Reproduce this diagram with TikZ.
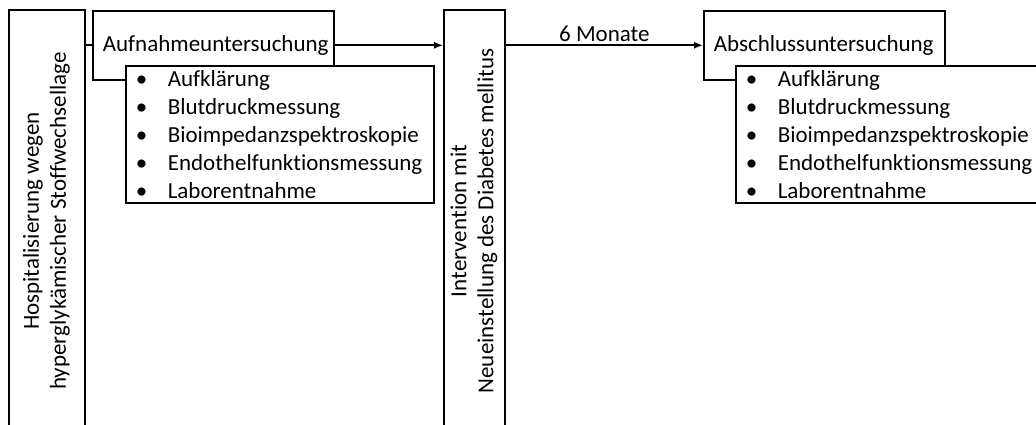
\documentclass[tikz,border=0pt]{standalone}
\usepackage{fontspec}
\setmainfont{Carlito}[Ligatures=NoCommon]
\usetikzlibrary{positioning, arrows.meta}
\tikzset{
>={Latex[length=9pt,width=7pt]}, % arrow tip of the connectors
}
\newcommand{\bul}[1]{\makebox[32pt][l]{\textbullet}#1} % one bullet line of a list

\begin{document}
\begin{tikzpicture}[x=1pt, y=-1pt, line width=1.6pt, font=\fontsize{23}{28}\selectfont,
    tall/.style = {draw, minimum width=#1, minimum height=422pt, inner sep=0pt},
    exam/.style = {draw, fill=white, align=left, text width=221pt, minimum height=69pt, inner xsep=10pt, inner ysep=0pt, anchor=north west},
    liste/.style = {draw, fill=white, align=left, text width=#1, minimum height=137pt, inner xsep=10pt, inner ysep=0pt, anchor=north west}]
    \useasboundingbox (0,0) rectangle (1036,425);
    \clip (0,0) rectangle (1036,425);
    \renewcommand{\arraystretch}{0.96}
    \node[tall=76pt] (hosp) at (47,221) {\rotatebox{90}{\begin{tabular}{@{}c@{}}Hospitalisierung wegen\\hyperglykämischer Stoffwechsellage\end{tabular}}};
    \node[tall=61pt] (interv) at (474.5,221) {\rotatebox{90}{\begin{tabular}{@{}c@{}}Intervention mit\\Neueinstellung des Diabetes mellitus\end{tabular}}};
    \node[exam] (aufn) at (92,10) {Aufnahmeuntersuchung};
    \node[liste=288pt] (aufnlist) at (125,65) {\bul{Aufklärung}\\\bul{Blutdruckmessung}\\\bul{Bioimpedanzspektroskopie}\\\bul{Endothelfunktionsmessung}\\\bul{Laborentnahme}};
    \node[exam] (absch) at (703,10) {Abschlussuntersuchung};
    \node[liste=310pt] (abschlist) at (735,65) {\bul{Aufklärung}\\\bul{Blutdruckmessung}\\\bul{Bioimpedanzspektroskopie}\\\bul{Endothelfunktionsmessung}\\\bul{Laborentnahme}};
    \draw (aufn.west) -- (aufn.west -| hosp.east);
    \draw [->] (aufn.east) -- (aufn.east -| interv.west);
    \draw [->] (absch.west -| interv.east) -- node[above, inner sep=3pt] (mon) {6 Monate} (absch.west);
\end{tikzpicture}
\end{document}
